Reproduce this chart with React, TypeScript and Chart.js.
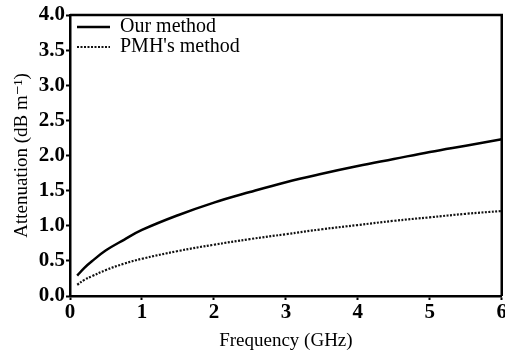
import React, { useEffect, useRef } from "react";
import { Chart, registerables } from "chart.js";

Chart.register(...registerables);

const frequencies = [0.1, 0.2, 0.3, 0.5, 0.75, 1, 1.5, 2, 2.5, 3, 3.5, 4, 4.5, 5, 5.5, 6];
const ourMethod = [0.29, 0.4, 0.49, 0.65, 0.8, 0.94, 1.15, 1.33, 1.48, 1.62, 1.74, 1.85, 1.95, 2.05, 2.14, 2.23];
const pmhMethod = [0.16, 0.23, 0.28, 0.37, 0.46, 0.53, 0.64, 0.73, 0.81, 0.88, 0.95, 1.01, 1.07, 1.12, 1.17, 1.21];
const seriesLabels = ["Our method", "PMH's method"];
const xTitle = "Frequency (GHz)";
const yTitle = "Attenuation (dB m\u207B\u00B9)";

const FONT = "'Liberation Serif', 'DejaVu Serif', serif";

const framePlugin = {
  id: "frame",
  afterDraw(chart: any) {
    const { ctx, chartArea } = chart;
    ctx.save();
    ctx.strokeStyle = "#000";
    ctx.lineWidth = 2.5;
    ctx.beginPath();
    ctx.moveTo(chartArea.left, chartArea.top);
    ctx.lineTo(chartArea.right, chartArea.top);
    ctx.lineTo(chartArea.right, chartArea.bottom);
    ctx.stroke();
    ctx.restore();
  },
};

const legendPlugin = {
  id: "insideLegend",
  afterDraw(chart: any) {
    const { ctx, chartArea } = chart;
    ctx.save();
    chart.data.datasets.forEach((ds: any, i: number) => {
      const y = chartArea.top + 12 + i * 20;
      const x0 = chartArea.left + 7;
      ctx.strokeStyle = ds.borderColor;
      ctx.lineWidth = ds.borderWidth;
      ctx.setLineDash(ds.borderDash || []);
      ctx.beginPath();
      ctx.moveTo(x0, y);
      ctx.lineTo(x0 + 33, y);
      ctx.stroke();
      ctx.setLineDash([]);
      ctx.fillStyle = "#000";
      ctx.font = `20px ${FONT}`;
      ctx.textBaseline = "middle";
      ctx.textAlign = "left";
      ctx.fillText(ds.label, x0 + 43, y);
    });
    ctx.restore();
  },
};

export default function App() {
  const ref = useRef<HTMLCanvasElement | null>(null);

  useEffect(() => {
    if (!ref.current) return;
    const chart = new Chart(ref.current, {
      type: "line",
      data: {
        datasets: [
          {
            label: seriesLabels[0],
            data: frequencies.map((f, i) => ({ x: f, y: ourMethod[i] })),
            borderColor: "#000",
            borderWidth: 2.5,
            pointRadius: 0,
            tension: 0.4,
            fill: false,
          },
          {
            label: seriesLabels[1],
            data: frequencies.map((f, i) => ({ x: f, y: pmhMethod[i] })),
            borderColor: "#111",
            borderWidth: 2.2,
            borderDash: [2, 1.5],
            pointRadius: 0,
            tension: 0.4,
            fill: false,
          },
        ],
      },
      options: {
        responsive: false,
        animation: false,
        layout: { padding: { top: 15, left: 0, right: 0, bottom: 0 } },
        plugins: {
          legend: { display: false },
          tooltip: { enabled: false },
        },
        scales: {
          x: {
            type: "linear",
            min: 0,
            max: 6,
            ticks: {
              stepSize: 1,
              color: "#000",
              font: { family: FONT, size: 21, weight: "bold" },
              padding: 0,
              maxRotation: 0,
            },
            grid: {
              drawOnChartArea: false,
              drawTicks: true,
              tickLength: 4,
              tickWidth: 2,
              color: "#000",
            },
            border: { color: "#000", width: 2.5 },
            title: {
              display: true,
              text: xTitle,
              color: "#000",
              font: { family: FONT, size: 19 },
              padding: { top: 2, bottom: 2 },
            },
            afterFit(scale: any) {
              scale.height = 58;
            },
          },
          y: {
            type: "linear",
            min: 0,
            max: 4,
            ticks: {
              stepSize: 0.5,
              color: "#000",
              font: { family: FONT, size: 21, weight: "bold" },
              padding: 1,
              callback: (v: any) => Number(v).toFixed(1),
            },
            grid: {
              drawOnChartArea: false,
              drawTicks: true,
              tickLength: 4,
              tickWidth: 2,
              color: "#000",
            },
            border: { color: "#000", width: 2.5 },
            title: {
              display: true,
              text: yTitle,
              color: "#000",
              font: { family: FONT, size: 19 },
              padding: { top: 11, bottom: 2 },
            },
            afterFit(scale: any) {
              scale.width = 70;
            },
          },
        },
      },
      plugins: [framePlugin, legendPlugin],
    });
    return () => chart.destroy();
  }, []);

  return (
    <div
      style={{
        position: "fixed",
        left: 0,
        top: 0,
        width: 505,
        height: 354,
        overflow: "hidden",
        background: "#fff",
      }}
    >
      <canvas ref={ref} width={507} height={354} />
    </div>
  );
}
